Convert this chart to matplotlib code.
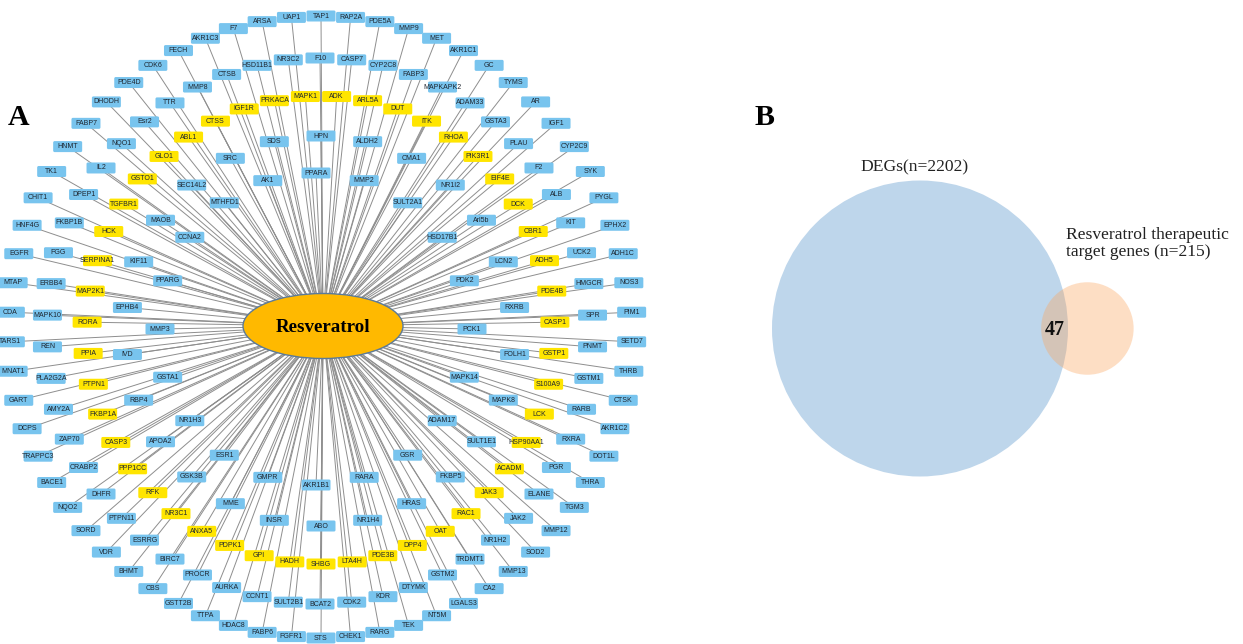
"""
Resveratrol target network (A) and DEG / target Venn diagram (B).
"""
import numpy as np
import matplotlib
matplotlib.use("Agg")
import matplotlib.pyplot as plt
from matplotlib.patches import Ellipse, Circle, FancyBboxPatch
from matplotlib.collections import LineCollection

# ---- network data: gene rings, clockwise, outermost first ----
ring_outer = [
    "TAP1", "RAP2A", "PDE5A", "MMP9", "MET", "AKR1C1", "GC", "TYMS", "AR", "IGF1",
    "CYP2C9", "SYK", "PYGL", "EPHX2", "ADH1C", "NOS3", "PIM1", "SETD7", "THRB", "CTSK",
    "AKR1C2", "DOT1L", "THRA", "TGM3", "MMP12", "SOD2", "MMP13", "CA2", "LGALS3", "NT5M",
    "TEK", "RARG", "CHEK1", "STS", "FGFR1", "FABP6", "HDAC8", "TTPA", "GSTT2B", "CBS",
    "BHMT", "VDR", "SORD", "NQO2", "BACE1", "TRAPPC3", "DCPS", "GART", "MNAT1", "TARS1",
    "CDA", "MTAP", "EGFR", "HNF4G", "CHIT1", "TK1", "HNMT", "FABP7", "DHODH", "PDE4D",
    "CDK6", "FECH", "AKR1C3", "F7", "ARSA", "UAP1",
]
ring_second = [
    "CTSB", "HSD11B1", "NR3C2", "F10", "CASP7", "CYP2C8", "FABP3", "MAPKAPK2", "ADAM33", "GSTA3",
    "PLAU", "F2", "ALB", "KIT", "UCK2", "HMGCR", "SPR", "PNMT", "GSTM1", "RARB",
    "RXRA", "PGR", "ELANE", "JAK2", "NR1H2", "TRDMT1", "GSTM2", "DTYMK", "KDR", "CDK2",
    "BCAT2", "SULT2B1", "CCNT1", "AURKA", "PROCR", "BIRC7", "ESRRG", "PTPN11", "DHFR", "CRABP2",
    "ZAP70", "AMY2A", "PLA2G2A", "REN", "MAPK10", "ERBB4", "FGG", "FKBP1B", "DPEP1", "IL2",
    "NQO1", "Esr2", "TTR", "MMP8",
]
# the 47 genes shared with the DEG set (yellow)
ring_shared = [
    "IGF1R", "PRKACA", "MAPK1", "ADK", "ARL5A", "DUT", "ITK", "RHOA", "PIK3R1", "EIF4E",
    "DCK", "CBR1", "ADH5", "PDE4B", "CASP1", "GSTP1", "S100A9", "LCK", "HSP90AA1", "ACADM",
    "JAK3", "RAC1", "OAT", "DPP4", "PDE3B", "LTA4H", "SHBG", "HADH", "GPI", "PDPK1",
    "ANXA5", "NR3C1", "RFK", "PPP1CC", "CASP3", "FKBP1A", "PTPN1", "PPIA", "RORA", "MAP2K1",
    "SERPINA1", "HCK", "TGFBR1", "GSTO1", "GLO1", "ABL1", "CTSS",
]
ring_fourth = [
    "SRC", "SDS", "HPN", "ALDH2", "CMA1", "NR1I2", "Arl5b", "LCN2", "RXRB", "FOLH1",
    "MAPK8", "SULT1E1", "FKBP5", "HRAS", "NR1H4", "ABO", "INSR", "MME", "GSK3B", "APOA2",
    "RBP4", "IVD", "EPHB4", "KIF11", "MAOB", "SEC14L2",
]
ring_inner = [
    "AK1", "PPARA", "MMP2", "SULT2A1", "HSD17B1", "PDK2", "PCK1", "MAPK14", "ADAM17", "GSR",
    "RARA", "AKR1B1", "GMPR", "ESR1", "NR1H3", "GSTA1", "MMP3", "PPARG", "CCNA2", "MTHFD1",
]
drug = "Resveratrol"

# ---- Venn data ----
set_labels = ["DEGs(n=2202)", "Resveratrol therapeutic\ntarget genes (n=215)"]
set_sizes = [2202, 215]
shared_count = 47

BLUE_NODE = "#78C4EE"
YELLOW_NODE = "#FFE500"
EDGE = "#8E8E8E"

plt.rcParams["font.family"] = ["Liberation Sans", "DejaVu Sans"]

fig = plt.figure(figsize=(12.43, 6.44), dpi=100)
ax = fig.add_axes([0, 0, 1, 1])
ax.set_xlim(0, 1243)
ax.set_ylim(644, 0)
ax.axis("off")

# layout: (genes, centre x, centre y, radius, angle of first node, colour)
rings = [
    (ring_outer, 321, 327, 311, 90.0, BLUE_NODE),
    (ring_second, 320, 331, 273, 90.0 + 3 * 360 / 54, BLUE_NODE),
    (ring_shared, 321, 330, 234, 90.0 + 2.5 * 360 / 47, YELLOW_NODE),
    (ring_fourth, 321, 331, 195, 90.0 + 2 * 360 / 26, BLUE_NODE),
    (ring_inner, 316, 329, 156, 90.0 + 1 * 360 / 20, BLUE_NODE),
]
hub = (323, 326)

nodes = []
for genes, cx, cy, r, a0, col in rings:
    ang = np.deg2rad(a0 - np.arange(len(genes)) * 360.0 / len(genes))
    xs = cx + r * np.cos(ang)
    ys = cy - r * np.sin(ang)
    for g, x, y in zip(genes, xs, ys):
        nodes.append((g, x, y, col))

# edges from the drug hub to every target
segs = [[hub, (x, y)] for _, x, y, _ in nodes]
ax.add_collection(LineCollection(segs, colors=EDGE, linewidths=0.7, zorder=1))

box_w, box_h = 29, 11
for g, x, y, col in nodes:
    ax.add_patch(FancyBboxPatch(
        (x - box_w / 2, y - box_h / 2), box_w, box_h,
        boxstyle="round,pad=0,rounding_size=1.5",
        facecolor=col, edgecolor="none", zorder=2,
    ))
    ax.text(x, y, g, ha="center", va="center", fontsize=5,
            color="#1e2630", zorder=3)

ax.add_patch(Ellipse(hub, 160, 65, facecolor="#FFB900",
                     edgecolor="#5B7A99", linewidth=1.0, zorder=4))
ax.text(hub[0], hub[1] + 1, drug, ha="center", va="center", fontsize=13.7,
        fontweight="bold", family="Liberation Serif", color="black", zorder=5)

# ---- panel B: area-proportional Venn ----
k = 148 / np.sqrt(set_sizes[0])
r1, r2 = k * np.sqrt(set_sizes[0]), k * np.sqrt(set_sizes[1])
target_area = np.pi * k ** 2 * shared_count


def lens_area(d):
    a1 = r1 ** 2 * np.arccos((d ** 2 + r1 ** 2 - r2 ** 2) / (2 * d * r1))
    a2 = r2 ** 2 * np.arccos((d ** 2 + r2 ** 2 - r1 ** 2) / (2 * d * r2))
    a3 = 0.5 * np.sqrt((-d + r1 + r2) * (d + r1 - r2) * (d - r1 + r2) * (d + r1 + r2))
    return a1 + a2 - a3


lo, hi = r1 - r2 + 1e-6, r1 + r2 - 1e-6
for _ in range(60):
    mid = (lo + hi) / 2
    if lens_area(mid) > target_area:
        lo = mid
    else:
        hi = mid
dist = (lo + hi) / 2

vx, vy = 920, 328.5
ax.add_patch(Circle((vx, vy), r1, facecolor="#BED6EB", edgecolor="none", zorder=2))
ax.add_patch(Circle((vx + dist, vy), r2, facecolor=(252 / 255, 166 / 255, 96 / 255),
                    alpha=0.37, edgecolor="none", zorder=3))

# centre of the lens for the count label
lens_left = vx + dist - r2
lens_right = vx + r1
ax.text((lens_left + lens_right) / 2, vy + 1, str(shared_count), ha="center", va="center",
        fontsize=14.4, fontweight="bold", family="Liberation Serif", color="#111111", zorder=5)

ax.text(vx - 5, 167, set_labels[0], ha="center", va="center", fontsize=12.6,
        family="Liberation Serif", color="#222222")
ax.text(1066, 243.5, set_labels[1], ha="left", va="center", fontsize=12.6,
        family="Liberation Serif", color="#222222", linespacing=1.05)

ax.text(8, 125, "A", ha="left", va="baseline", fontsize=21.5, fontweight="bold",
        family="Liberation Serif")
ax.text(755, 125, "B", ha="left", va="baseline", fontsize=21.5, fontweight="bold",
        family="Liberation Serif")

fig.savefig("out.png", dpi=100, facecolor="white")
plt.close(fig)
